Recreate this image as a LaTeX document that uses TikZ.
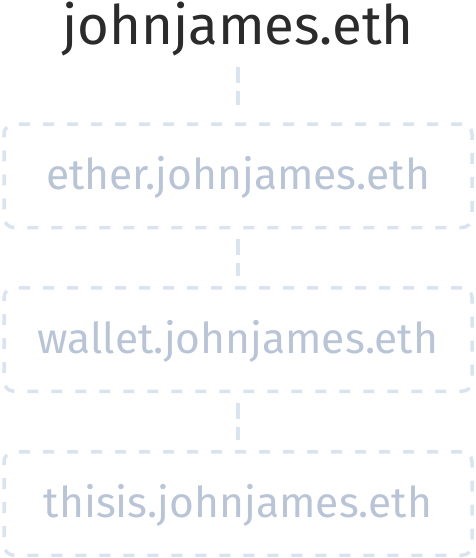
\documentclass[tikz,border=0pt]{standalone}
\usepackage{fontspec}
\setmainfont{Fira Sans}
\usepackage{tikz}
\usetikzlibrary{positioning}

\definecolor{edgeblue}{HTML}{DAE4F0}
\definecolor{subtext}{HTML}{B9C5D6}
\definecolor{roottext}{HTML}{2B2B2B}

\begin{document}
\begin{tikzpicture}[
  x=1pt, y=1pt,
  namebox/.style={draw=edgeblue, line width=3.5pt, rounded corners=10pt,
    dash pattern=on 11pt off 13pt, minimum width=468pt, minimum height=103.5pt,
    inner sep=0pt, text=subtext, text height=28pt, text depth=0pt,
    font=\fontsize{42.5}{46}\selectfont},
  link/.style={draw=edgeblue, line width=3.5pt, dash pattern=on 16pt off 8pt},
]
\useasboundingbox (0,0) rectangle (476,-558);

\node[anchor=base, inner sep=0pt, text depth=0pt, text=roottext,
      font=\fontsize{54.5}{60}\selectfont] (root) at (238,-44) {johnjames.eth};

\node[namebox] (ether)  at (238,-175.75) {ether.johnjames.eth};
\node[namebox] (wallet) at (238,-339.5)  {wallet.johnjames.eth};
\node[namebox] (thisis) at (238,-503.5)  {thisis.johnjames.eth};

\draw[link, shorten <=23pt, shorten >=17pt] (root.south) -- (ether.north);
\draw[link, shorten <=10pt, shorten >=10pt] (ether.south) -- (wallet.north);
\draw[link, shorten <=10pt, shorten >=10pt] (wallet.south) -- (thisis.north);
\end{tikzpicture}
\end{document}
